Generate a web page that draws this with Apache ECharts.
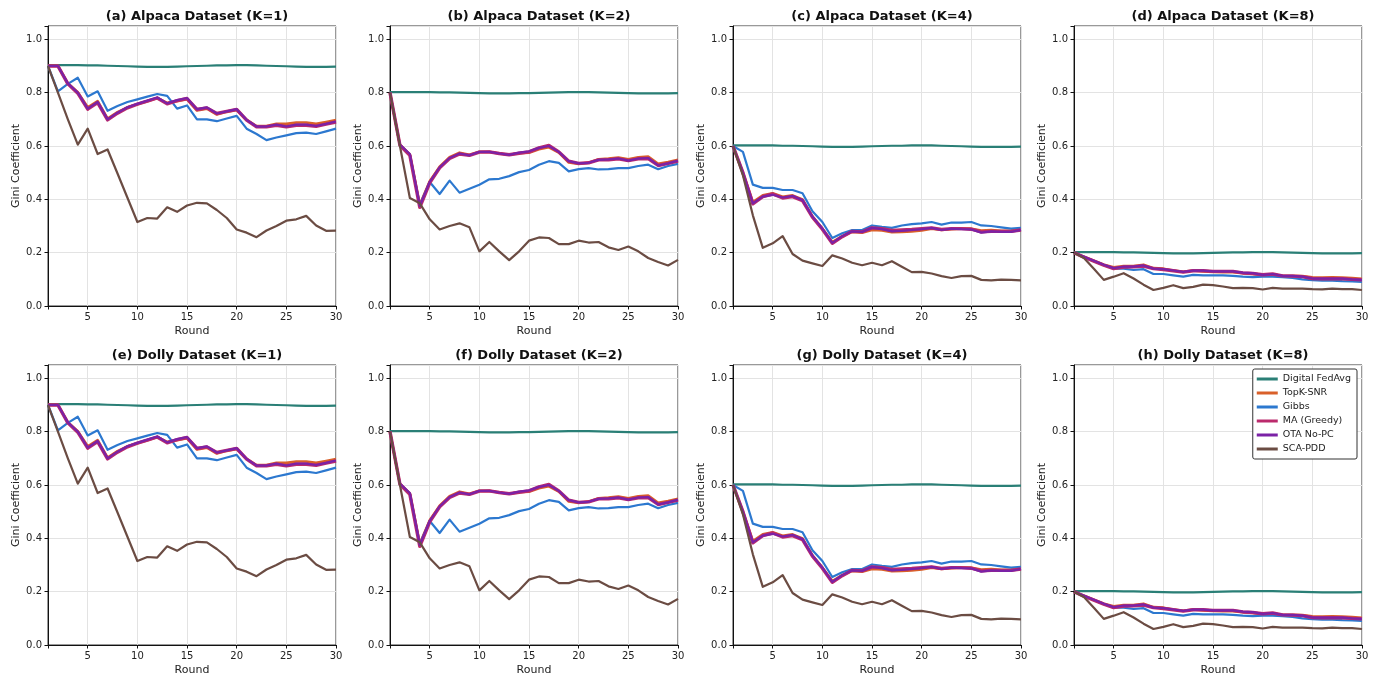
<!DOCTYPE html>
<html>
<head>
    <meta charset="UTF-8">
    <title>Gini Coefficient per Round</title>
    <script src="https://cdn.jsdelivr.net/npm/echarts@6/dist/echarts.min.js"></script>
    <style>
        html, body {
            margin: 0;
            padding: 0;
            background: #fff;
        }

        #chart {
            width: 1379px;
            height: 677px;
        }
    </style>
</head>
<body>
<div id="chart"></div>
<script>
    // x axis: communication rounds 1..30
    var rounds = [1, 2, 3, 4, 5, 6, 7, 8, 9, 10, 11, 12, 13, 14, 15, 16, 17, 18, 19, 20, 21, 22, 23, 24, 25, 26, 27, 28, 29, 30];

    var seriesNames = ['Digital FedAvg', 'TopK-SNR', 'Gibbs', 'MA (Greedy)', 'OTA No-PC', 'SCA-PDD'];
    var seriesColors = ['#2a7f76', '#d9602a', '#2c78cf', '#bb2a6c', '#7b22a6', '#6b4c43'];
    var seriesWidths = [2.2, 2.6, 2.2, 3.4, 2.2, 2.2];

    // K = 1
    var fedK1 = [0.903, 0.903, 0.903, 0.903, 0.902, 0.902, 0.901, 0.900, 0.899, 0.898, 0.897, 0.897, 0.897, 0.898, 0.899, 0.900, 0.901, 0.902, 0.902, 0.903, 0.903, 0.902, 0.901, 0.900, 0.899, 0.898, 0.897, 0.897, 0.897, 0.898];
    var topkK1 = [0.90, 0.90, 0.835, 0.802, 0.745, 0.768, 0.703, 0.727, 0.745, 0.757, 0.768, 0.780, 0.762, 0.768, 0.775, 0.733, 0.740, 0.718, 0.728, 0.735, 0.698, 0.675, 0.675, 0.683, 0.683, 0.688, 0.688, 0.683, 0.690, 0.697];
    var gibbsK1 = [0.90, 0.805, 0.833, 0.856, 0.786, 0.805, 0.732, 0.750, 0.765, 0.775, 0.785, 0.795, 0.788, 0.740, 0.752, 0.700, 0.700, 0.693, 0.703, 0.713, 0.665, 0.645, 0.622, 0.632, 0.640, 0.648, 0.650, 0.645, 0.655, 0.665];
    var maK1 = [0.90, 0.90, 0.833, 0.798, 0.738, 0.763, 0.698, 0.723, 0.743, 0.757, 0.768, 0.780, 0.758, 0.770, 0.778, 0.737, 0.743, 0.722, 0.730, 0.737, 0.697, 0.672, 0.672, 0.678, 0.672, 0.678, 0.678, 0.674, 0.682, 0.690];
    var otaK1 = [0.90, 0.90, 0.835, 0.800, 0.740, 0.765, 0.700, 0.725, 0.745, 0.758, 0.770, 0.782, 0.760, 0.772, 0.780, 0.738, 0.745, 0.722, 0.730, 0.738, 0.698, 0.673, 0.673, 0.680, 0.673, 0.680, 0.680, 0.675, 0.683, 0.692];
    var scaK1 = [0.90, 0.80, 0.70, 0.605, 0.665, 0.570, 0.587, 0.497, 0.406, 0.315, 0.330, 0.328, 0.370, 0.353, 0.377, 0.387, 0.385, 0.360, 0.330, 0.287, 0.275, 0.258, 0.283, 0.300, 0.320, 0.325, 0.338, 0.302, 0.282, 0.283];

    // K = 2
    var fedK2 = [0.802, 0.802, 0.802, 0.802, 0.802, 0.801, 0.801, 0.800, 0.799, 0.798, 0.797, 0.797, 0.797, 0.798, 0.798, 0.799, 0.800, 0.801, 0.802, 0.802, 0.802, 0.801, 0.800, 0.799, 0.798, 0.797, 0.797, 0.797, 0.797, 0.798];
    var topkK2 = [0.80, 0.605, 0.568, 0.380, 0.468, 0.522, 0.558, 0.575, 0.567, 0.578, 0.578, 0.572, 0.567, 0.573, 0.575, 0.588, 0.595, 0.575, 0.538, 0.533, 0.537, 0.550, 0.553, 0.557, 0.550, 0.558, 0.560, 0.533, 0.540, 0.548];
    var gibbsK2 = [0.80, 0.600, 0.565, 0.380, 0.465, 0.420, 0.470, 0.425, 0.440, 0.455, 0.475, 0.477, 0.487, 0.502, 0.510, 0.530, 0.543, 0.537, 0.505, 0.513, 0.517, 0.512, 0.513, 0.517, 0.517, 0.525, 0.530, 0.513, 0.525, 0.533];
    var maK2 = [0.80, 0.603, 0.565, 0.370, 0.462, 0.518, 0.553, 0.570, 0.565, 0.577, 0.578, 0.572, 0.567, 0.573, 0.578, 0.593, 0.602, 0.578, 0.543, 0.535, 0.537, 0.548, 0.548, 0.552, 0.545, 0.552, 0.553, 0.527, 0.535, 0.543];
    var otaK2 = [0.80, 0.605, 0.570, 0.375, 0.465, 0.520, 0.555, 0.572, 0.565, 0.578, 0.578, 0.572, 0.567, 0.575, 0.580, 0.593, 0.600, 0.578, 0.543, 0.535, 0.537, 0.548, 0.550, 0.553, 0.545, 0.553, 0.555, 0.527, 0.535, 0.545];
    var scaK2 = [0.80, 0.600, 0.405, 0.385, 0.325, 0.287, 0.300, 0.310, 0.295, 0.205, 0.240, 0.205, 0.172, 0.205, 0.245, 0.257, 0.255, 0.232, 0.232, 0.245, 0.238, 0.240, 0.220, 0.210, 0.223, 0.205, 0.180, 0.165, 0.152, 0.173];

    // K = 4
    var fedK4 = [0.602, 0.602, 0.602, 0.602, 0.602, 0.601, 0.601, 0.600, 0.599, 0.598, 0.597, 0.597, 0.597, 0.598, 0.599, 0.600, 0.601, 0.601, 0.602, 0.602, 0.602, 0.601, 0.600, 0.599, 0.598, 0.597, 0.597, 0.597, 0.597, 0.598];
    var topkK4 = [0.60, 0.500, 0.390, 0.415, 0.423, 0.410, 0.415, 0.400, 0.335, 0.290, 0.240, 0.262, 0.278, 0.275, 0.285, 0.283, 0.277, 0.278, 0.280, 0.283, 0.290, 0.285, 0.288, 0.290, 0.290, 0.283, 0.285, 0.282, 0.283, 0.287];
    var gibbsK4 = [0.60, 0.578, 0.455, 0.443, 0.443, 0.435, 0.435, 0.423, 0.355, 0.315, 0.255, 0.273, 0.285, 0.285, 0.302, 0.297, 0.293, 0.302, 0.307, 0.310, 0.315, 0.305, 0.313, 0.313, 0.315, 0.302, 0.300, 0.295, 0.290, 0.293];
    var maK4 = [0.60, 0.500, 0.383, 0.410, 0.420, 0.405, 0.410, 0.395, 0.333, 0.288, 0.235, 0.260, 0.280, 0.278, 0.293, 0.290, 0.283, 0.285, 0.287, 0.290, 0.293, 0.287, 0.290, 0.290, 0.288, 0.278, 0.280, 0.280, 0.280, 0.285];
    var otaK4 = [0.60, 0.500, 0.385, 0.410, 0.417, 0.407, 0.413, 0.397, 0.335, 0.290, 0.237, 0.262, 0.280, 0.278, 0.293, 0.288, 0.280, 0.282, 0.285, 0.288, 0.293, 0.285, 0.290, 0.288, 0.287, 0.275, 0.280, 0.278, 0.278, 0.285];
    var scaK4 = [0.60, 0.490, 0.340, 0.218, 0.235, 0.262, 0.195, 0.170, 0.160, 0.150, 0.190, 0.178, 0.162, 0.153, 0.162, 0.153, 0.168, 0.147, 0.127, 0.128, 0.122, 0.112, 0.105, 0.112, 0.113, 0.098, 0.096, 0.099, 0.098, 0.096];

    // K = 8
    var fedK8 = [0.202, 0.202, 0.202, 0.202, 0.202, 0.201, 0.201, 0.200, 0.199, 0.198, 0.197, 0.197, 0.197, 0.198, 0.199, 0.200, 0.201, 0.201, 0.202, 0.202, 0.202, 0.201, 0.200, 0.199, 0.198, 0.197, 0.197, 0.197, 0.197, 0.198];
    var topkK8 = [0.20, 0.185, 0.170, 0.155, 0.145, 0.150, 0.150, 0.155, 0.142, 0.140, 0.133, 0.128, 0.133, 0.130, 0.128, 0.127, 0.127, 0.123, 0.120, 0.115, 0.118, 0.113, 0.113, 0.112, 0.108, 0.107, 0.108, 0.107, 0.105, 0.102];
    var gibbsK8 = [0.20, 0.185, 0.168, 0.153, 0.140, 0.140, 0.135, 0.138, 0.120, 0.120, 0.115, 0.110, 0.117, 0.115, 0.115, 0.115, 0.113, 0.110, 0.108, 0.110, 0.110, 0.108, 0.105, 0.100, 0.097, 0.095, 0.095, 0.093, 0.092, 0.090];
    var maK8 = [0.20, 0.183, 0.168, 0.153, 0.140, 0.146, 0.147, 0.150, 0.140, 0.137, 0.132, 0.127, 0.132, 0.132, 0.130, 0.130, 0.130, 0.124, 0.122, 0.117, 0.120, 0.113, 0.112, 0.110, 0.103, 0.102, 0.102, 0.102, 0.100, 0.098];
    var otaK8 = [0.20, 0.185, 0.170, 0.155, 0.142, 0.148, 0.148, 0.152, 0.140, 0.138, 0.133, 0.128, 0.133, 0.133, 0.130, 0.130, 0.130, 0.125, 0.123, 0.117, 0.120, 0.113, 0.113, 0.110, 0.103, 0.103, 0.103, 0.103, 0.100, 0.098];
    var scaK8 = [0.20, 0.180, 0.140, 0.098, 0.110, 0.123, 0.103, 0.080, 0.060, 0.068, 0.078, 0.067, 0.072, 0.080, 0.078, 0.073, 0.067, 0.068, 0.067, 0.062, 0.068, 0.065, 0.065, 0.065, 0.063, 0.062, 0.065, 0.063, 0.063, 0.060];

    // Dolly panels read the same as the Alpaca ones
    var panelTitles = [
        '(a) Alpaca Dataset (K=1)', '(b) Alpaca Dataset (K=2)', '(c) Alpaca Dataset (K=4)', '(d) Alpaca Dataset (K=8)',
        '(e) Dolly Dataset (K=1)', '(f) Dolly Dataset (K=2)', '(g) Dolly Dataset (K=4)', '(h) Dolly Dataset (K=8)'
    ];
    var panelData = [
        [fedK1, topkK1, gibbsK1, maK1, otaK1, scaK1],
        [fedK2, topkK2, gibbsK2, maK2, otaK2, scaK2],
        [fedK4, topkK4, gibbsK4, maK4, otaK4, scaK4],
        [fedK8, topkK8, gibbsK8, maK8, otaK8, scaK8]
    ];

    (function () {
        var FONT = 'DejaVu Sans';
        var gridLefts = [48, 390, 733, 1074];
        var gridWidth = 288;
        var gridTops = [26, 365];
        var gridHeight = 280;

        var grids = [], xAxes = [], yAxes = [], titles = [], series = [];

        for (var p = 0; p < 8; p++) {
            var row = Math.floor(p / 4), col = p % 4;
            var gLeft = gridLefts[col], gTop = gridTops[row];

            grids.push({
                left: gLeft, top: gTop, width: gridWidth, height: gridHeight,
                show: true, borderColor: '#333', borderWidth: 1, backgroundColor: 'transparent'
            });

            titles.push({
                text: panelTitles[p],
                left: gLeft + gridWidth / 2,
                top: gTop - 21,
                textAlign: 'center',
                textStyle: {fontFamily: FONT, fontSize: 13, fontWeight: 'bold', color: '#111'}
            });

            // no interval: nice ticks come out at 5,10..30 (plus the min, whose label is hidden)
            xAxes.push({
                gridIndex: p, type: 'value', min: 1, max: 30, splitNumber: 6,
                name: 'Round', nameLocation: 'middle', nameGap: 20,
                nameTextStyle: {fontFamily: FONT, fontSize: 11, color: '#222'},
                axisLine: {show: true, onZero: false, lineStyle: {color: '#111', width: 1}},
                axisTick: {show: true, length: 3.5, lineStyle: {color: '#111'}},
                axisLabel: {
                    margin: 6, fontFamily: FONT, fontSize: 10, color: '#222',
                    formatter: function (v) { return v < 2 ? '' : String(v); }
                },
                splitLine: {show: true, lineStyle: {color: '#e3e3e3', width: 1}}
            });

            yAxes.push({
                gridIndex: p, type: 'value', min: 0, max: 1.05, interval: 0.2,
                name: 'Gini Coefficient', nameLocation: 'middle', nameGap: 26,
                nameTextStyle: {fontFamily: FONT, fontSize: 11, color: '#222'},
                axisLine: {show: true, onZero: false, lineStyle: {color: '#111', width: 1}},
                axisTick: {show: true, length: 3.5, lineStyle: {color: '#111'}},
                axisLabel: {
                    margin: 6, fontFamily: FONT, fontSize: 10, color: '#222',
                    formatter: function (v) { return v > 1.01 ? '' : v.toFixed(1); }
                },
                splitLine: {show: true, lineStyle: {color: '#e3e3e3', width: 1}}
            });

            var sets = panelData[col];
            for (var s = 0; s < seriesNames.length; s++) {
                var pts = [];
                for (var i = 0; i < rounds.length; i++) {
                    pts.push([rounds[i], sets[s][i]]);
                }
                series.push({
                    name: seriesNames[s],
                    type: 'line',
                    xAxisIndex: p,
                    yAxisIndex: p,
                    data: pts,
                    showSymbol: false,
                    symbol: 'none',
                    silent: true,
                    itemStyle: {color: seriesColors[s]},
                    lineStyle: {color: seriesColors[s], width: seriesWidths[s], join: 'round'},
                    z: 2 + s
                });
            }
        }

        var chart = echarts.init(document.getElementById('chart'));
        chart.setOption({
            backgroundColor: '#fff',
            animation: false,
            title: titles,
            grid: grids,
            xAxis: xAxes,
            yAxis: yAxes,
            legend: {
                data: seriesNames,
                orient: 'vertical',
                right: 22,
                top: 369,
                icon: 'rect',
                itemWidth: 21,
                itemHeight: 3,
                itemGap: 2,
                padding: [4, 6, 4, 4],
                backgroundColor: '#fff',
                borderColor: '#333',
                borderWidth: 1,
                borderRadius: 2,
                textStyle: {fontFamily: FONT, fontSize: 9.5, color: '#222', lineHeight: 12},
                z: 20
            },
            series: series
        });
    })();
</script>
</body>
</html>
